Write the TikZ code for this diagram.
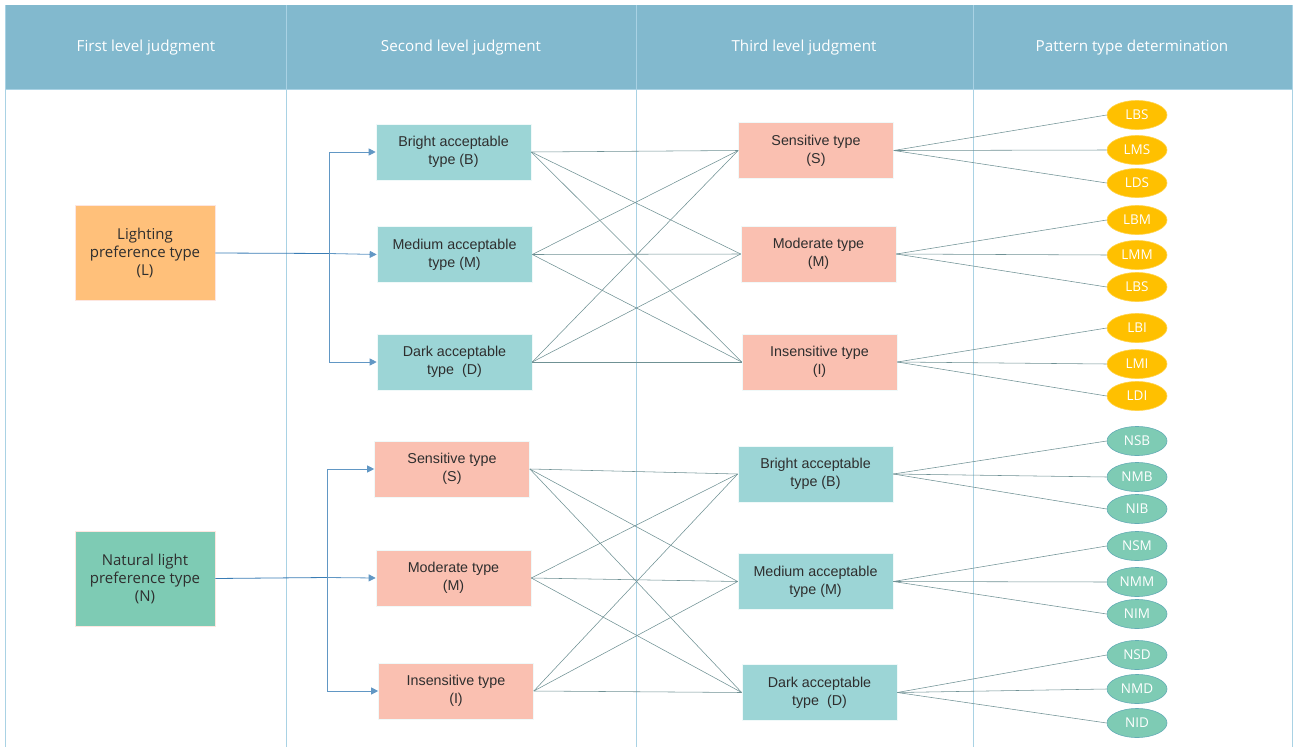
\documentclass[tikz,border=0pt]{standalone}
\usepackage{fontspec}
\setmainfont{Liberation Sans}
\newfontfamily\hfont{Open Sans}
\usetikzlibrary{shapes.geometric,arrows.meta}
\definecolor{hdr}{HTML}{82B9CE}
\definecolor{gridl}{HTML}{A9D2E4}
\definecolor{tealbox}{HTML}{9CD5D6}
\definecolor{salbox}{HTML}{FAC0B1}
\definecolor{orbox}{HTML}{FFC07A}
\definecolor{grbox}{HTML}{7ECBB4}
\definecolor{gold}{HTML}{FFC000}
\definecolor{arr}{HTML}{3A7DB5}
\definecolor{lnk}{HTML}{6F9194}
\definecolor{txt}{HTML}{2E2E2E}
\tikzset{
  hdrtext/.style={text=white,font=\hfont\fontsize{15.2}{18}\selectfont},
  firstbox/.style={draw=salbox!40,line width=0.6pt,minimum width=140pt,minimum height=95pt,align=center,text=txt,font=\hfont\fontsize{15}{18}\selectfont,inner sep=0pt},
  midbox/.style={draw=white!85!tealbox,line width=0.6pt,minimum width=155pt,minimum height=56pt,align=center,text=txt,font=\fontsize{14.3}{18}\selectfont,inner sep=0pt},
  tbox/.style={midbox,fill=tealbox},
  sbox/.style={midbox,fill=salbox},
  oval/.style={ellipse,minimum width=60pt,minimum height=29pt,inner sep=0pt,text=white,font=\hfont\fontsize{13.5}{15}\selectfont,line width=0.6pt},
  govl/.style={oval,fill=gold,draw=gold!70!white},
  novl/.style={oval,fill=grbox,draw=grbox!60!arr},
  flow/.style={draw=arr!80!white,line width=0.8pt,-{Triangle[length=7pt,width=7pt]}},
  link/.style={draw=lnk,line width=0.55pt},
}
\begin{document}
\begin{tikzpicture}[x=1pt,y=-1pt]
\useasboundingbox (0,0) rectangle (1294,747);
% header
\fill[hdr] (5,5) rectangle (1292,89);
\draw[gridl,line width=1pt] (5,89) -- (1292,89);
\foreach \xx in {5.5,286,636,973,1292}{\draw[gridl,line width=1pt] (\xx,5) -- (\xx,747);}
\node[hdrtext] (h1) at (146,48) {First level judgment};
\node[hdrtext] (h2) at (461,48) {Second level judgment};
\node[hdrtext] (h3) at (804,48) {Third level judgment};
\node[hdrtext] (h4) at (1132,48) {Pattern type determination};

% first level
\node[firstbox,fill=orbox] (L) at (145,253) {Lighting\\preference type\\(L)};
\node[firstbox,fill=grbox] (N) at (145,578.5) {Natural light\\preference type\\(N)};

% second level upper
\node[tbox] (uB) at (453.5,152) {Bright acceptable\\type (B)};
\node[tbox] (uM) at (454.5,254.5) {Medium acceptable\\type (M)};
\node[tbox] (uD) at (454.5,362) {Dark acceptable\\type~ (D)};
% second level lower
\node[sbox] (lS) at (452,469) {Sensitive type\\(S)};
\node[sbox] (lM) at (453.5,578) {Moderate type\\(M)};
\node[sbox] (lI) at (456,691) {Insensitive type\\(I)};

% third level upper
\node[sbox] (tS) at (816,150.5) {Sensitive type\\(S)};
\node[sbox] (tM) at (818.5,254) {Moderate type\\(M)};
\node[sbox] (tI) at (819.5,362) {Insensitive type\\(I)};
% third level lower
\node[tbox] (tB) at (815.5,474) {Bright acceptable\\type (B)};
\node[tbox] (tMM) at (815.5,581.5) {Medium acceptable\\type (M)};
\node[tbox] (tD) at (819.5,692.5) {Dark acceptable\\type~ (D)};

% flows
\coordinate (jL) at (329,253.5);
\coordinate (jN) at (327,577.5);
\draw[draw=arr,line width=0.8pt] (L.east) -- (jL);
\draw[flow] (jL) |- (uB.west);
\draw[flow] (jL) -- (uM.west);
\draw[flow] (jL) |- (uD.west);
\draw[draw=arr,line width=0.8pt] (N.east) -- (jN);
\draw[flow] (jN) |- (lS.west);
\draw[flow] (jN) -- (lM.west);
\draw[flow] (jN) |- (lI.west);

% cross links
\foreach \a in {uB,uM,uD}{\foreach \b in {tS,tM,tI}{\draw[link] (\a.east) -- (\b.west);}}
\foreach \a in {lS,lM,lI}{\foreach \b in {tB,tMM,tD}{\draw[link] (\a.east) -- (\b.west);}}

% ovals
\node[govl] (o1) at (1137,115) {LBS};
\node[govl] (o2) at (1137,150) {LMS};
\node[govl] (o3) at (1137,183) {LDS};
\node[govl] (o4) at (1137,220) {LBM};
\node[govl] (o5) at (1137,255) {LMM};
\node[govl] (o6) at (1137,287) {LBS};
\node[govl] (o7) at (1137,328) {LBI};
\node[govl] (o8) at (1137,364) {LMI};
\node[govl] (o9) at (1137,396) {LDI};
\node[novl] (p1) at (1137,441) {NSB};
\node[novl] (p2) at (1137,477) {NMB};
\node[novl] (p3) at (1137,509) {NIB};
\node[novl] (p4) at (1137,546) {NSM};
\node[novl] (p5) at (1137,582) {NMM};
\node[novl] (p6) at (1137,614) {NIM};
\node[novl] (p7) at (1137,655) {NSD};
\node[novl] (p8) at (1137,689) {NMD};
\node[novl] (p9) at (1137,723) {NID};

\foreach \o in {o1,o2,o3}{\draw[link] (tS.east) -- (\o.west);}
\foreach \o in {o4,o5,o6}{\draw[link] (tM.east) -- (\o.west);}
\foreach \o in {o7,o8,o9}{\draw[link] (tI.east) -- (\o.west);}
\foreach \o in {p1,p2,p3}{\draw[link] (tB.east) -- (\o.west);}
\foreach \o in {p4,p5,p6}{\draw[link] (tMM.east) -- (\o.west);}
\foreach \o in {p7,p8,p9}{\draw[link] (tD.east) -- (\o.west);}
\end{tikzpicture}
\end{document}
